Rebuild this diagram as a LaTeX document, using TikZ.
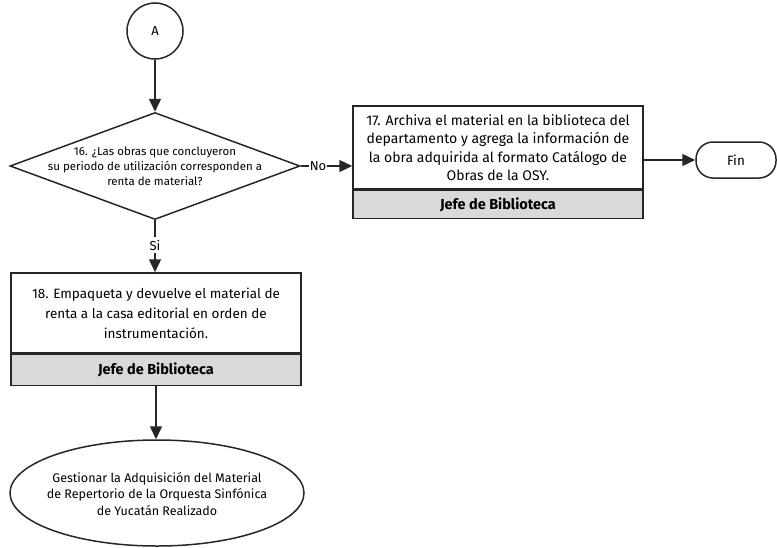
\documentclass[tikz,border=0pt]{standalone}
\usepackage{fontspec}
\setmainfont{Fira Sans}
\usetikzlibrary{arrows.meta,shapes.geometric}
\begin{document}
\begin{tikzpicture}[x=1pt,y=-1pt,
  line width=1.5pt,
  conn/.style={draw=black!85, line width=1.5pt, -{Triangle[length=13pt,width=12pt]}},
  plain/.style={draw=black!85, line width=1.5pt},
  taskbox/.style={draw=black!85, line width=1.5pt, fill=white, minimum width=290pt, inner sep=0pt, align=center},
  rolebox/.style={draw=black!85, line width=1.5pt, fill=black!15, minimum width=290pt, inner sep=0pt, font=\fontsize{14.5}{16}\selectfont\bfseries},
  lbl/.style={font=\fontsize{13}{15}\selectfont, inner sep=1pt}
]
\useasboundingbox (0,0) rectangle (777,547);
% end event (drawn first so connectors lie on top)
\node[ellipse, draw=black!85, line width=1.5pt, minimum width=294pt, minimum height=106pt, inner sep=0pt] (fin2) at (157,493) {};
\node[align=center, font=\fontsize{12.5}{16.5}\selectfont] (fin2t) at (157,494) {Gestionar la Adquisición del Material\\de Repertorio de la Orquesta Sinfónica\\de Yucatán Realizado};
% connector A
\node[circle, draw=black!85, line width=1.5pt, minimum size=56pt, inner sep=0pt, font=\fontsize{13}{15}\selectfont] (A) at (155,31) {A};
% decision
\node[diamond, draw=black!85, line width=1.5pt, minimum width=290pt, minimum height=107pt, inner sep=0pt] (d16) at (155,166) {};
\node[align=center, font=\fontsize{11.5}{15}\selectfont] (d16t) at (155,166) {16. ¿Las obras que concluyeron\\su periodo de utilización corresponden a\\renta de material?};
% task 17
\node[taskbox, minimum height=83pt, font=\fontsize{14}{18.5}\selectfont] (t17) at (498,147.5) {17. Archiva el material en la biblioteca del\\departamento y agrega la información de\\la obra adquirida al formato Catálogo de\\Obras de la OSY.};
\node[rolebox, minimum height=28pt, anchor=north] (r17) at (t17.south) {Jefe de Biblioteca};
% Fin
\node[draw=black!85, line width=1.5pt, rounded corners=17pt, minimum width=80pt, minimum height=36pt, font=\fontsize{13.5}{15}\selectfont] (fin) at (736,160) {Fin};
% task 18
\node[taskbox, minimum height=80pt, font=\fontsize{13.5}{20}\selectfont] (t18) at (156,313) {18. Empaqueta y devuelve el material de\\renta a la casa editorial en orden de\\instrumentación.};
\node[rolebox, minimum height=31pt, anchor=north] (r18) at (t18.south) {Jefe de Biblioteca};
% connectors
\draw[conn] (A) -- (d16.north);
\draw[plain] (d16.east) -- (309,166) node[lbl, anchor=west, inner sep=0pt] (no) {No};
\draw[conn] (no.east) -- (t17.west |- no.east);
\draw[conn] (t17.east |- fin.west) -- (fin.west);
\draw[plain] (d16.south) -- (155,237);
\node[lbl] (si) at (155,246) {Si};
\draw[conn] (si.south) -- (t18.north -| si.south);
\draw[conn] (r18.south) -- (fin2.north -| r18.south);
\end{tikzpicture}
\end{document}
